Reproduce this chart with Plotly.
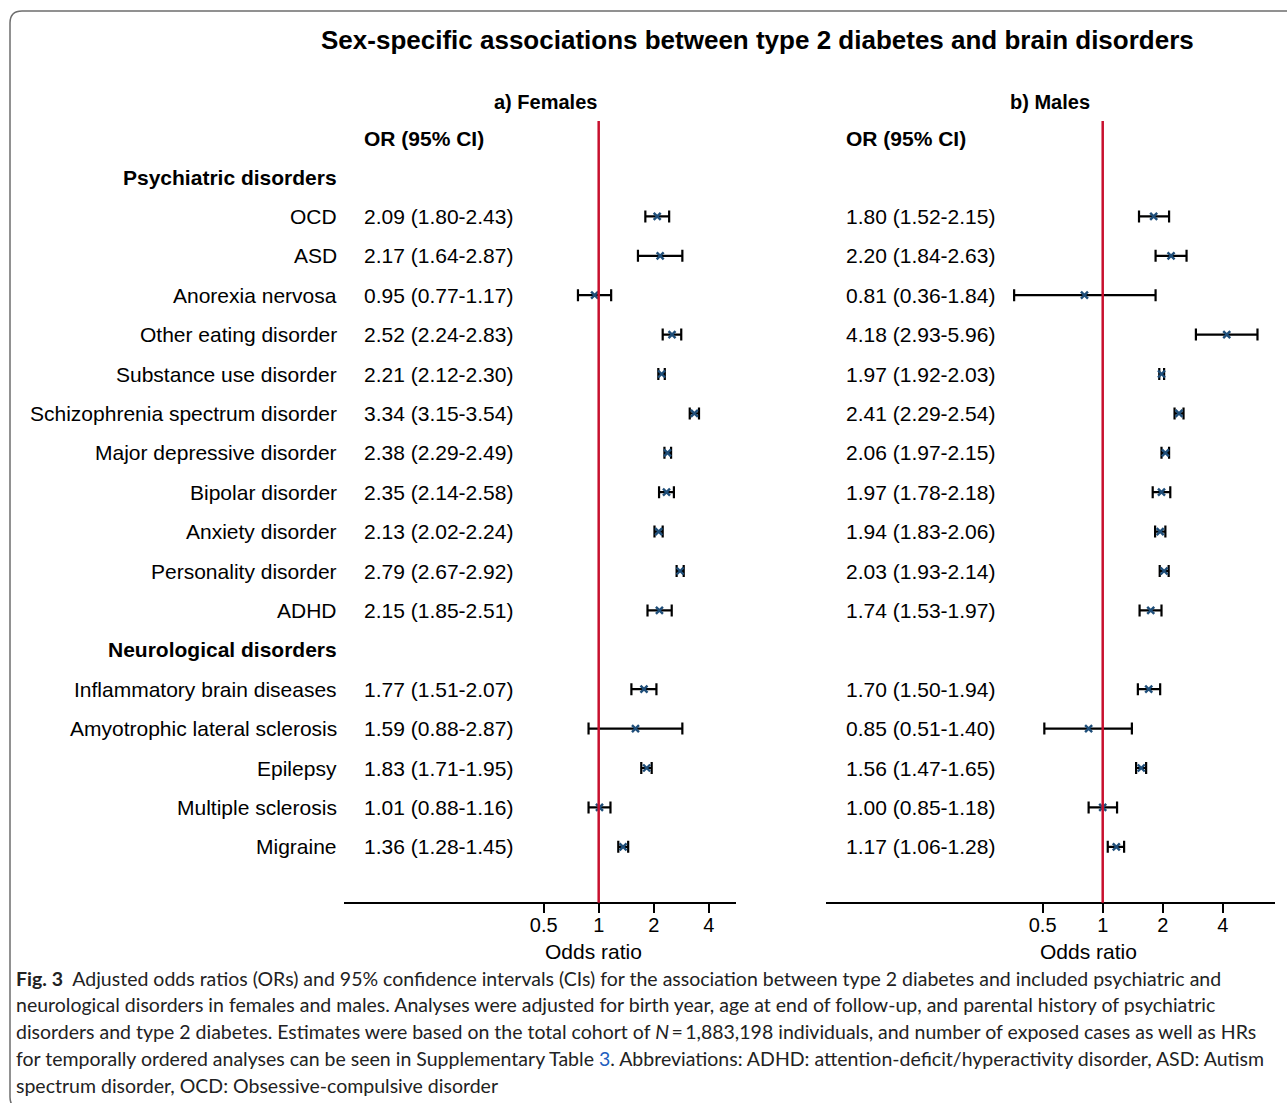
import plotly.graph_objects as go

# ---------------- data ----------------
psych_labels = ["OCD", "ASD", "Anorexia nervosa", "Other eating disorder",
                "Substance use disorder", "Schizophrenia spectrum disorder",
                "Major depressive disorder", "Bipolar disorder", "Anxiety disorder",
                "Personality disorder", "ADHD"]
neuro_labels = ["Inflammatory brain diseases", "Amyotrophic lateral sclerosis",
                "Epilepsy", "Multiple sclerosis", "Migraine"]

f_or = [2.09, 2.17, 0.95, 2.52, 2.21, 3.34, 2.38, 2.35, 2.13, 2.79, 2.15,
        1.77, 1.59, 1.83, 1.01, 1.36]
f_lo = [1.80, 1.64, 0.77, 2.24, 2.12, 3.15, 2.29, 2.14, 2.02, 2.67, 1.85,
        1.51, 0.88, 1.71, 0.88, 1.28]
f_hi = [2.43, 2.87, 1.17, 2.83, 2.30, 3.54, 2.49, 2.58, 2.24, 2.92, 2.51,
        2.07, 2.87, 1.95, 1.16, 1.45]

m_or = [1.80, 2.20, 0.81, 4.18, 1.97, 2.41, 2.06, 1.97, 1.94, 2.03, 1.74,
        1.70, 0.85, 1.56, 1.00, 1.17]
m_lo = [1.52, 1.84, 0.36, 2.93, 1.92, 2.29, 1.97, 1.78, 1.83, 1.93, 1.53,
        1.50, 0.51, 1.47, 0.85, 1.06]
m_hi = [2.15, 2.63, 1.84, 5.96, 2.03, 2.54, 2.15, 2.18, 2.06, 2.14, 1.97,
        1.94, 1.40, 1.65, 1.18, 1.28]

tick_vals = [0.5, 1, 2, 4]
tick_text = ["0.5", "1", "2", "4"]

group_headers = ["Psychiatric disorders", "Neurological disorders"]

caption_lines = [
    "<b>Fig. 3</b>  Adjusted odds ratios (ORs) and 95% confidence intervals (CIs) for the association between type 2 diabetes and included psychiatric and",
    "neurological disorders in females and males. Analyses were adjusted for birth year, age at end of follow-up, and parental history of psychiatric",
    "disorders and type 2 diabetes. Estimates were based on the total cohort of <i>N</i>\u2009=\u20091,883,198 individuals, and number of exposed cases as well as HRs",
    "for temporally ordered analyses can be seen in Supplementary Table <span style='color:#1f5fbf'>3</span>. Abbreviations: ADHD: attention-deficit/hyperactivity disorder, ASD: Autism",
    "spectrum disorder, OCD: Obsessive-compulsive disorder",
]

# ---------------- layout helpers ----------------
W, H = 1287, 1103
ROW = 39.4          # pixel spacing of rows
Y0 = 177            # pixel y of the first header row


def px(x):
    return x / W


def py(y):
    return 1 - y / H


def row_of(ypix):
    return (ypix - Y0) / ROW


labels = psych_labels + neuro_labels
# row positions: header 0, psych 1..11, header 12, neuro 13..17
rows = list(range(1, 1 + len(psych_labels))) + \
    list(range(len(psych_labels) + 2, len(psych_labels) + 2 + len(neuro_labels)))
header_rows = [0, len(psych_labels) + 1]

FONT = "Liberation Sans, Arial, sans-serif"
FS = 21
MARK = "#1f4e79"
RED = "#c8102e"

fig = go.Figure()


def add_panel(orv, lo, hi, xa):
    fig.add_trace(go.Scatter(
        x=orv, y=rows, mode="markers", xaxis=xa, yaxis="y",
        marker=dict(symbol="x-thin", size=7, color=MARK,
                    line=dict(width=2.4, color=MARK)),
        error_x=dict(type="data", symmetric=False,
                     array=[h - o for h, o in zip(hi, orv)],
                     arrayminus=[o - l for o, l in zip(orv, lo)],
                     color="black", thickness=2.2, width=6),
        showlegend=False, hoverinfo="skip"))


add_panel(f_or, f_lo, f_hi, "x")
add_panel(m_or, m_lo, m_hi, "x2")

axis_pos = py(902.7)
common_x = dict(type="log", showgrid=False, zeroline=False, showline=True,
                linecolor="black", linewidth=2, ticks="outside", ticklen=9,
                tickwidth=2, tickcolor="black", tickvals=tick_vals,
                ticktext=tick_text, tickfont=dict(family=FONT, size=20, color="black"),
                ticklabelstandoff=-5,
                anchor="free", position=axis_pos, fixedrange=True)

fig.update_layout(
    width=W, height=H, margin=dict(l=0, r=0, t=0, b=0),
    paper_bgcolor="white", plot_bgcolor="rgba(0,0,0,0)",
    xaxis=dict(domain=[px(344), px(736)], range=[-1.394, 0.7515], **common_x),
    xaxis2=dict(domain=[px(826), px(1275)], range=[-1.386, 0.863], **common_x),
    yaxis=dict(domain=[0, 1], range=[row_of(H), row_of(0)], visible=False,
               fixedrange=True),
    font=dict(family=FONT, size=FS, color="black"),
)

# reference lines at OR = 1
for xa in ["x", "x2"]:
    fig.add_shape(type="line", xref=xa, yref="y", x0=1, x1=1,
                  y0=row_of(121), y1=row_of(902.7),
                  line=dict(color=RED, width=2.5), layer="above")

ann = []

# title & panel titles
ann.append(dict(text="<b>Sex-specific associations between type 2 diabetes and brain disorders</b>",
                x=px(757), y=py(40), xref="paper", yref="paper",
                xanchor="center", yanchor="middle", showarrow=False,
                font=dict(family=FONT, size=26, color="black")))
ann.append(dict(text="<b>a) Females</b>", x=px(545), y=py(102), xref="paper", yref="paper",
                xanchor="center", yanchor="middle", showarrow=False,
                font=dict(family=FONT, size=20)))
ann.append(dict(text="<b>b) Males</b>", x=px(1050), y=py(102), xref="paper", yref="paper",
                xanchor="center", yanchor="middle", showarrow=False,
                font=dict(family=FONT, size=20)))
for xp in [362, 844]:
    ann.append(dict(text="<b>OR (95% CI)</b>", x=px(xp), y=row_of(138), xref="paper", yref="y",
                    xanchor="left", yanchor="middle", showarrow=False,
                    font=dict(family=FONT, size=FS)))

# group headers
for hdr, r in zip(group_headers, header_rows):
    ann.append(dict(text=f"<b>{hdr}</b>", x=px(339), y=r, xref="paper", yref="y",
                    xanchor="right", yanchor="middle", showarrow=False,
                    font=dict(family=FONT, size=FS)))

# row labels and OR texts
for i, (lab, r) in enumerate(zip(labels, rows)):
    ann.append(dict(text=lab, x=px(339), y=r, xref="paper", yref="y",
                    xanchor="right", yanchor="middle", showarrow=False,
                    font=dict(family=FONT, size=FS)))
    ann.append(dict(text=f"{f_or[i]:.2f} ({f_lo[i]:.2f}-{f_hi[i]:.2f})",
                    x=px(362), y=r, xref="paper", yref="y",
                    xanchor="left", yanchor="middle", showarrow=False,
                    font=dict(family=FONT, size=FS)))
    ann.append(dict(text=f"{m_or[i]:.2f} ({m_lo[i]:.2f}-{m_hi[i]:.2f})",
                    x=px(844), y=r, xref="paper", yref="y",
                    xanchor="left", yanchor="middle", showarrow=False,
                    font=dict(family=FONT, size=FS)))

# axis titles
ann.append(dict(text="Odds ratio", x=px(593), y=py(951), xref="paper", yref="paper",
                xanchor="center", yanchor="middle", showarrow=False,
                font=dict(family=FONT, size=21)))
ann.append(dict(text="Odds ratio", x=px(1088), y=py(951), xref="paper", yref="paper",
                xanchor="center", yanchor="middle", showarrow=False,
                font=dict(family=FONT, size=21)))

# caption
CAP_FONT = "Lato, Open Sans, sans-serif"
for k, line in enumerate(caption_lines):
    ann.append(dict(text=line, x=px(14), y=py(978 + 26.8 * k), xref="paper", yref="paper",
                    xanchor="left", yanchor="middle", showarrow=False,
                    font=dict(family=CAP_FONT, size=19.5, color="#222222")))

fig.update_layout(annotations=ann)

# rounded frame (open on the right, bottom edge just below the picture)
x_l, y_t, y_b, rad = px(10), py(11), py(1109), 12
rx, ry = rad / W, rad / H
path = (f"M {px(1295)},{y_t} L {x_l + rx},{y_t} Q {x_l},{y_t} {x_l},{y_t - ry} "
        f"L {x_l},{y_b + ry} Q {x_l},{y_b} {x_l + rx},{y_b} L {px(1295)},{y_b}")
fig.add_shape(type="path", xref="paper", yref="paper", path=path,
              line=dict(color="#6e6e6e", width=1.5))

fig.write_html("out.html", config={"displayModeBar": False},
               post_script="document.body.style.margin='0';document.body.style.overflow='hidden';")
